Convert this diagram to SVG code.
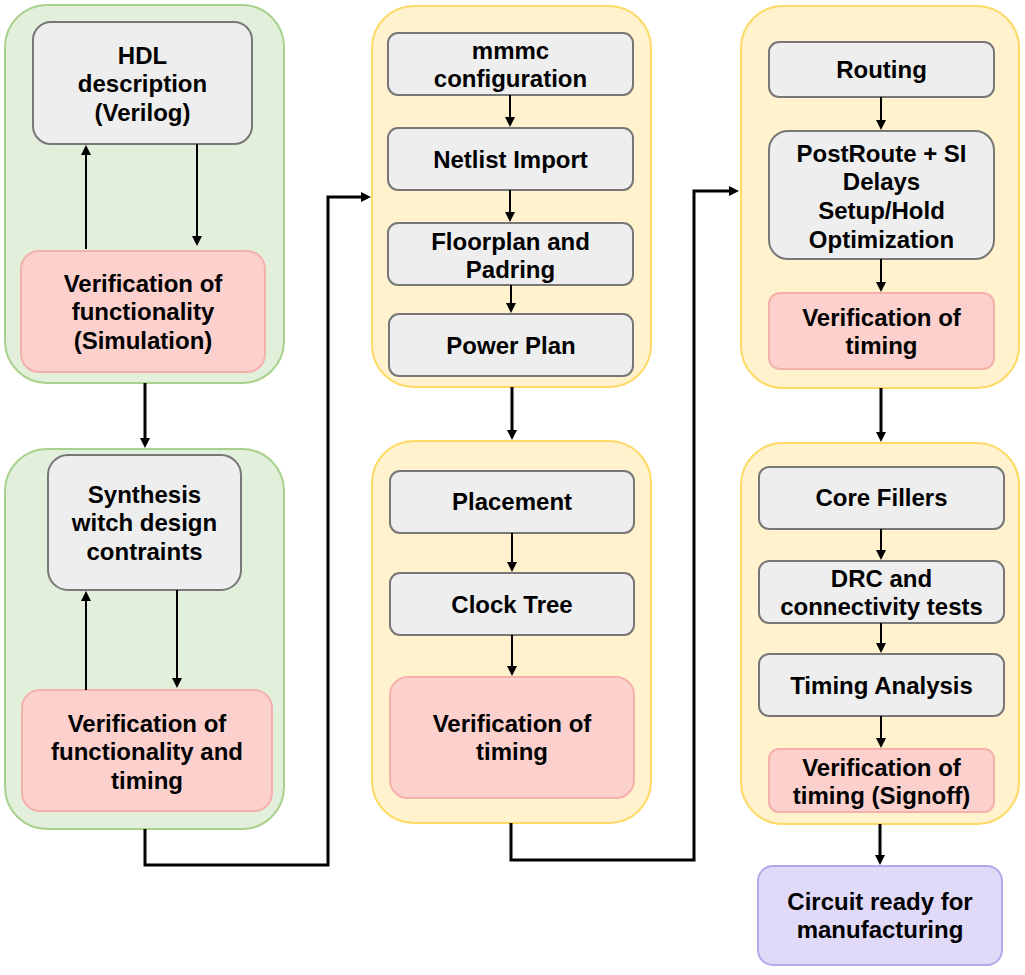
<svg xmlns="http://www.w3.org/2000/svg" width="1025" height="975" viewBox="0 0 1025 975">
<defs>
<style>
.grp-g{fill:#e2efda;stroke:#a9d18e;stroke-width:2}
.grp-y{fill:#fff2cc;stroke:#ffd966;stroke-width:2}
.box{fill:#eeeeee;stroke:#777777;stroke-width:2}
.pink{fill:#fcd0cc;stroke:#f4b1ab;stroke-width:2}
.purp{fill:#e1d9f8;stroke:#b4a7ea;stroke-width:2}
text{font-family:"Liberation Sans",Arial,sans-serif;font-weight:bold;font-size:24px;fill:#000;text-anchor:middle}
.thin{fill:none;stroke:#000;stroke-width:2;marker-end:url(#ah)}
.thick{fill:none;stroke:#000;stroke-width:3;marker-end:url(#ahb)}
</style>
<marker id="ah" viewBox="0 0 10 10" refX="0" refY="5" markerWidth="11" markerHeight="10" markerUnits="userSpaceOnUse" orient="auto">
<path d="M0,0 L10,5 L0,10 z" fill="#000"/>
</marker>
<marker id="ahb" viewBox="0 0 10 10" refX="0" refY="5" markerWidth="11" markerHeight="10" markerUnits="userSpaceOnUse" orient="auto">
<path d="M0,0 L10,5 L0,10 z" fill="#000"/>
</marker>
</defs>

<g id="group-rtl"><rect class="grp-g" x="5" y="5" width="279" height="378" rx="42"/></g>
<g id="group-synthesis"><rect class="grp-g" x="5" y="449" width="279" height="380" rx="42"/></g>
<g id="group-floorplan"><rect class="grp-y" x="372" y="6" width="279" height="381" rx="42"/></g>
<g id="group-placement"><rect class="grp-y" x="372" y="441" width="279" height="382" rx="42"/></g>
<g id="group-routing"><rect class="grp-y" x="741" y="6" width="278" height="382" rx="42"/></g>
<g id="group-signoff"><rect class="grp-y" x="741" y="443" width="278" height="381" rx="42"/></g>

<g id="hdl"><rect class="box" x="33" y="22" width="219" height="122" rx="18"/>
<text x="142.5" y="64">HDL</text><text x="142.5" y="92">description</text><text x="142.5" y="121">(Verilog)</text></g>
<g id="sim"><rect class="pink" x="21" y="251" width="244" height="121" rx="18"/>
<text x="143" y="292">Verification of</text><text x="143" y="320">functionality</text><text x="143" y="349">(Simulation)</text></g>

<g id="synth"><rect class="box" x="48" y="455" width="193" height="135" rx="20"/>
<text x="144.5" y="503">Synthesis</text><text x="144.5" y="531">witch design</text><text x="144.5" y="560">contraints</text></g>
<g id="verif-ft"><rect class="pink" x="22" y="690" width="250" height="121" rx="18"/>
<text x="147" y="732">Verification of</text><text x="147" y="760">functionality and</text><text x="147" y="789">timing</text></g>

<g id="mmmc"><rect class="box" x="388" y="33" width="245" height="62" rx="10"/>
<text x="510.5" y="59">mmmc</text><text x="510.5" y="87">configuration</text></g>
<g id="netlist"><rect class="box" x="388" y="128" width="245" height="62" rx="10"/>
<text x="510.5" y="168">Netlist Import</text></g>
<g id="floorplan"><rect class="box" x="388" y="223" width="245" height="62" rx="10"/>
<text x="510.5" y="250">Floorplan and</text><text x="510.5" y="278">Padring</text></g>
<g id="power"><rect class="box" x="389" y="314" width="244" height="62" rx="10"/>
<text x="511" y="354">Power Plan</text></g>

<g id="placement"><rect class="box" x="390" y="471" width="244" height="62" rx="10"/>
<text x="512" y="510">Placement</text></g>
<g id="clock"><rect class="box" x="390" y="573" width="244" height="62" rx="10"/>
<text x="512" y="613">Clock Tree</text></g>
<g id="verif-t1"><rect class="pink" x="390" y="677" width="244" height="121" rx="18"/>
<text x="512" y="732">Verification of</text><text x="512" y="760">timing</text></g>

<g id="routing"><rect class="box" x="769" y="42" width="225" height="55" rx="10"/>
<text x="881.5" y="78">Routing</text></g>
<g id="postroute"><rect class="box" x="769" y="131" width="225" height="128" rx="19"/>
<text x="881.5" y="162">PostRoute + SI</text><text x="881.5" y="190">Delays</text><text x="881.5" y="219">Setup/Hold</text><text x="881.5" y="248">Optimization</text></g>
<g id="verif-t2"><rect class="pink" x="769" y="293" width="225" height="76" rx="11"/>
<text x="881.5" y="326">Verification of</text><text x="881.5" y="354">timing</text></g>

<g id="fillers"><rect class="box" x="759" y="467" width="245" height="62" rx="10"/>
<text x="881.5" y="506">Core Fillers</text></g>
<g id="drc"><rect class="box" x="759" y="561" width="245" height="62" rx="10"/>
<text x="881.5" y="587">DRC and</text><text x="881.5" y="615">connectivity tests</text></g>
<g id="timing"><rect class="box" x="759" y="654" width="245" height="62" rx="10"/>
<text x="881.5" y="694">Timing Analysis</text></g>
<g id="verif-signoff"><rect class="pink" x="769" y="749" width="225" height="63" rx="10"/>
<text x="881.5" y="776">Verification of</text><text x="881.5" y="804">timing (Signoff)</text></g>

<g id="circuit"><rect class="purp" x="758" y="866" width="244" height="99" rx="15"/>
<text x="880" y="910">Circuit ready for</text><text x="880" y="938">manufacturing</text></g>

<g id="connectors">
<path class="thin" d="M86,249 L86,155"/>
<path class="thin" d="M197,144 L197,236"/>
<path class="thin" d="M86,690 L86,601"/>
<path class="thin" d="M177,590 L177,678"/>
<path class="thin" d="M510,95 L510,117"/>
<path class="thin" d="M510,190 L510,212"/>
<path class="thin" d="M511,285 L511,303"/>
<path class="thin" d="M512,533 L512,562"/>
<path class="thin" d="M512,635 L512,666"/>
<path class="thin" d="M881,97 L881,120"/>
<path class="thin" d="M881,259 L881,282"/>
<path class="thin" d="M881,529 L881,550"/>
<path class="thin" d="M881,623 L881,643"/>
<path class="thin" d="M881,716 L881,738"/>
<path class="thick" d="M145,383 L145,438"/>
<path class="thick" d="M145,829 L145,865 L328,865 L328,197 L361,197"/>
<path class="thick" d="M512,387 L512,430"/>
<path class="thick" d="M511,823 L511,860 L694,860 L694,191 L729,191"/>
<path class="thick" d="M881,388 L881,432"/>
<path class="thick" d="M880,824 L880,855"/>
</g>
</svg>
